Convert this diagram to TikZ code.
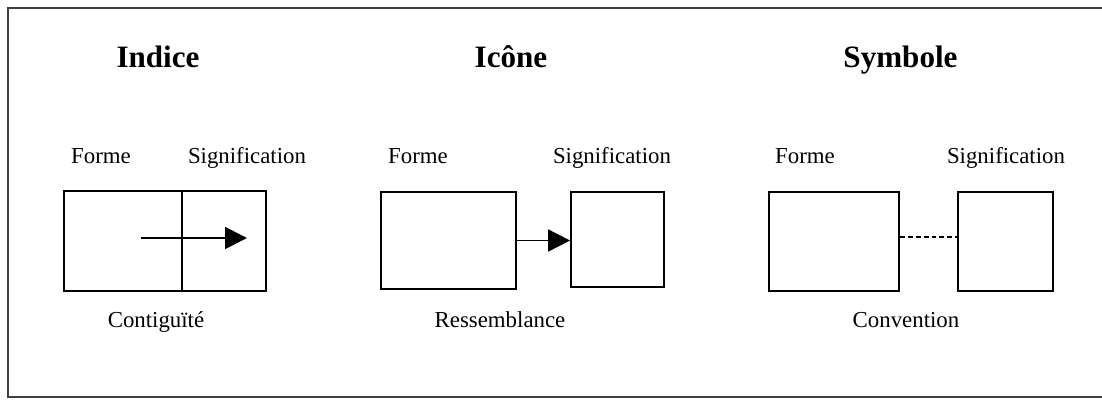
\documentclass[tikz,border=0pt]{standalone}
\usepackage{fontspec}
\setmainfont{Liberation Serif}
\usetikzlibrary{arrows.meta}

\begin{document}
\begin{tikzpicture}[x=0.02cm, y=-0.02cm,
    box/.style={draw, line width=1pt, inner sep=0pt},
    titre/.style={font=\fontsize{17.7}{20}\selectfont\bfseries, anchor=base},
    lab/.style={font=\fontsize{13}{15}\selectfont, anchor=base},
    fleche/.style={line width=1pt, -{Triangle[length=12.5pt, width=12.5pt]}}]
                \useasboundingbox (0,0) rectangle (1102,399);
                \begin{scope}
                \clip (0,0) rectangle (1102,399);
                \draw [line width=1.2pt, black!75] (8,8) rectangle (1112,397);
                \end{scope}

                % titres
                \node [titre] (tInd) at (158,67.5) {Indice};
                \node [titre] (tIco) at (511,67.5) {Icône};
                \node [titre] (tSym) at (900.5,67.5) {Symbole};

                % indice
                \node [lab] (fInd) at (101,163) {Forme};
                \node [lab] (sInd) at (247,163) {Signification};
                \node [box, minimum width=2.36cm, minimum height=2cm] (indF) at (123,241) {};
                \node [box, minimum width=1.68cm, minimum height=2cm] (indS) at (224,241) {};
                \coordinate (indA) at (141,238);
                \coordinate (indB) at (247,238);
                \draw [fleche] (indA) to (indB);
                \node [lab] (cInd) at (156,327) {Contiguïté};

                % icone
                \node [lab] (fIco) at (418,163) {Forme};
                \node [lab] (sIco) at (612,163) {Signification};
                \node [box, minimum width=2.7cm, minimum height=1.94cm] (icoF) at (448.5,240.5) {};
                \node [box, minimum width=1.86cm, minimum height=1.9cm] (icoS) at (617.5,239.5) {};
                \draw [fleche] (icoF.east) to (icoF.east -| icoS.west);
                \node [lab] (cIco) at (500,327) {Ressemblance};

                % symbole
                \node [lab] (fSym) at (805,163) {Forme};
                \node [lab] (sSym) at (1006,163) {Signification};
                \node [box, minimum width=2.6cm, minimum height=1.98cm] (symF) at (834,241.5) {};
                \node [box, minimum width=1.9cm, minimum height=1.98cm] (symS) at (1005.5,241.5) {};
                \draw [line width=1pt, dash pattern=on 2.8pt off 1.7pt] ([yshift=0.09cm]symF.east) to ([yshift=0.09cm]symS.west);
                \node [lab] (cSym) at (906,327) {Convention};
\end{tikzpicture}
\end{document}
